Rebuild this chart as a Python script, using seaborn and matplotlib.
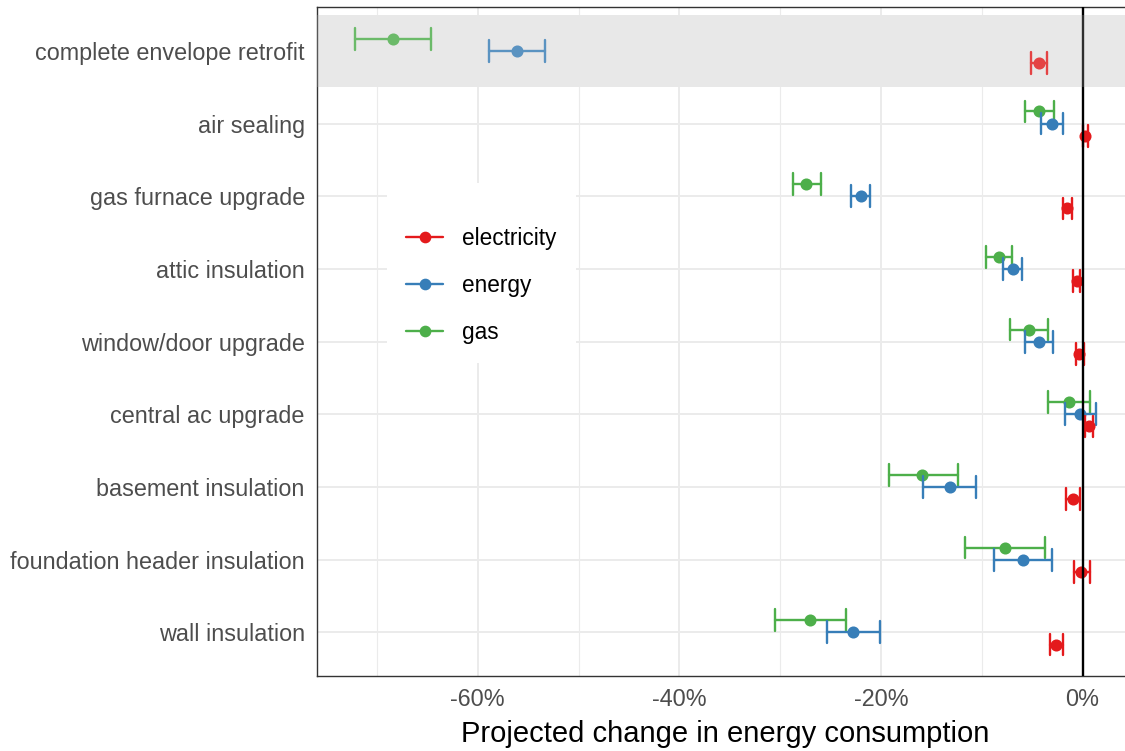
import numpy as np
import pandas as pd
import matplotlib
matplotlib.use("Agg")
import matplotlib.pyplot as plt
from matplotlib.lines import Line2D
from matplotlib.ticker import MultipleLocator, FuncFormatter
import seaborn as sns

# retrofit measures, top to bottom
measures = ["complete envelope retrofit", "air sealing", "gas furnace upgrade",
            "attic insulation", "window/door upgrade", "central ac upgrade",
            "basement insulation", "foundation header insulation", "wall insulation"]

# projected change (%), point estimate and interval ends
gas_est = [-68.4, -4.3, -27.4, -8.3, -5.3, -1.35, -15.9, -7.7, -27.0]
gas_lo = [-72.2, -5.75, -28.7, -9.6, -7.2, -3.4, -19.25, -11.7, -30.5]
gas_hi = [-64.6, -2.8, -25.9, -7.0, -3.45, 0.75, -12.4, -3.7, -23.5]

energy_est = [-56.1, -3.05, -22.0, -6.9, -4.3, -0.25, -13.2, -5.9, -22.75]
energy_lo = [-58.9, -4.1, -23.0, -7.9, -5.7, -1.7, -15.8, -8.8, -25.4]
energy_hi = [-53.3, -1.9, -21.1, -6.0, -2.9, 1.35, -10.6, -3.0, -20.1]

elec_est = [-4.3, 0.25, -1.5, -0.6, -0.4, 0.6, -0.95, -0.2, -2.6]
elec_lo = [-5.1, 0.0, -1.9, -0.95, -0.7, 0.25, -1.6, -0.9, -3.2]
elec_hi = [-3.55, 0.55, -1.1, -0.3, 0.1, 1.05, -0.3, 0.7, -1.9]

fuels = ["electricity", "energy", "gas"]
colors = {"electricity": "#E41A1C", "energy": "#377EB8", "gas": "#4DAF4A"}

# long table: lo / est / hi rows per measure, so median = estimate and
# the 100% percentile interval = the reported interval
series = {"electricity": (elec_lo, elec_est, elec_hi),
          "energy": (energy_lo, energy_est, energy_hi),
          "gas": (gas_lo, gas_est, gas_hi)}
rows = []
for fuel, (lo, est, hi) in series.items():
    for m, a, b, c in zip(measures, lo, est, hi):
        for v in (a, b, c):
            rows.append({"measure": m, "fuel": fuel, "change": v})
df = pd.DataFrame(rows)

sns.set_style("white")
plt.rcParams["font.family"] = ["Liberation Sans", "DejaVu Sans"]
plt.rcParams["axes.unicode_minus"] = False

fig = plt.figure(figsize=(11.25, 7.51), dpi=100)
ax = fig.add_axes([317 / 1125, 75 / 751, 816 / 1125, 668.7 / 751])

sns.pointplot(data=df, x="change", y="measure", hue="fuel",
              order=measures, hue_order=["gas", "energy", "electricity"],
              palette=colors, estimator="median", errorbar=("pi", 100),
              dodge=0.334, linestyle="none", marker="o", markersize=7.4,
              linewidth=1.7, capsize=0.3, legend=False, ax=ax)

# highlight band for the top row: opaque under marks, light wash over them
ax.axhspan(-0.5, 0.5, color="#E8E8E8", zorder=0.8, lw=0)
ax.axvline(0, color="black", lw=1.7, zorder=5)
ax.axhspan(-0.5, 0.5, color="#E8E8E8", alpha=0.2, zorder=10, lw=0)

ax.set_xlim(-75.94, 5.0)
ax.set_ylim(8.6, -0.6)
ax.xaxis.set_major_locator(MultipleLocator(20))
ax.xaxis.set_minor_locator(MultipleLocator(10))
ax.xaxis.set_major_formatter(FuncFormatter(lambda v, p: f"{abs(v):.0f}%" if abs(v) < 1e-9 else f"{v:.0f}%"))

ax.set_axisbelow(True)
ax.grid(which="major", color="#EBEBEB", lw=1.4)
ax.grid(which="minor", axis="x", color="#EBEBEB", lw=0.8)
ax.tick_params(which="major", length=4.3, width=1.1, color="#333333",
               labelsize=16.8, labelcolor="#4D4D4D", pad=4.5)
ax.tick_params(axis="y", pad=4.5)
ax.tick_params(which="minor", length=0)
for s in ax.spines.values():
    s.set_color("#333333")
    s.set_linewidth(1.0)

ax.set_ylabel("")
ax.set_xlabel("Projected change in energy consumption", fontsize=21,
              color="black", labelpad=6.5)

handles = [Line2D([], [], color=colors[f], marker="o", markersize=7.4, lw=1.7)
           for f in fuels]
leg = ax.legend(handles, fuels, loc="upper left", bbox_to_anchor=(0.0858, 0.7373),
                borderaxespad=0, title=" ", title_fontsize=1, fontsize=16.3,
                labelspacing=1.05, handlelength=1.64, handletextpad=0.84,
                borderpad=0.85, frameon=True, fancybox=False)
leg.get_frame().set_facecolor("white")
leg.get_frame().set_edgecolor("none")
leg.get_frame().set_alpha(1)
for t in leg.get_texts():
    t.set_color("black")

fig.savefig("out.png", dpi=100)
